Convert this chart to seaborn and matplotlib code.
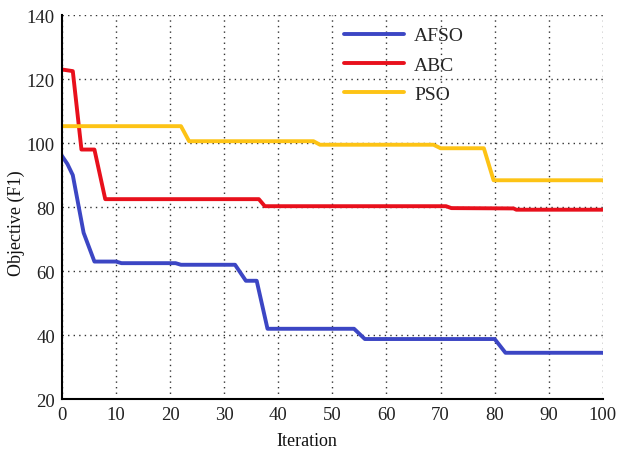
import pandas as pd
import seaborn as sns
import matplotlib.pyplot as plt

# breakpoints
afso_x = [0, 1, 2, 4, 6, 10, 11, 21, 22, 32, 34, 36, 38, 54, 56, 80, 82, 100]
afso_y = [96, 93.5, 90, 72, 63, 63, 62.5, 62.5, 62, 62, 57, 57, 42, 42, 38.8, 38.8, 34.5, 34.5]

abc_x = [0, 2, 3.6, 6, 8, 36.4, 37.5, 71, 72, 83.5, 84, 100]
abc_y = [123, 122.5, 98, 98, 82.5, 82.5, 80.3, 80.3, 79.7, 79.6, 79.2, 79.2]

pso_x = [0, 22, 23.5, 46.5, 47.7, 68.7, 70, 78, 79.8, 100]
pso_y = [105.3, 105.3, 100.6, 100.6, 99.5, 99.5, 98.4, 98.4, 88.4, 88.4]

algos = ['AFSO', 'ABC', 'PSO']
cores = ['#3C46C4', '#E8101C', '#FDC315']

df = pd.concat([
    pd.DataFrame({'Iteration': afso_x, 'Objective': afso_y, 'Algo': 'AFSO'}),
    pd.DataFrame({'Iteration': abc_x, 'Objective': abc_y, 'Algo': 'ABC'}),
    pd.DataFrame({'Iteration': pso_x, 'Objective': pso_y, 'Algo': 'PSO'}),
])

sns.set_style('white')
plt.rcParams['font.family'] = ['Liberation Serif', 'DejaVu Serif']

fig = plt.figure(figsize=(6.26, 4.6), dpi=100)
ax = fig.add_axes([0.099, 0.130, 0.864, 0.835])

sns.lineplot(data=df, x='Iteration', y='Objective', hue='Algo', hue_order=algos,
             palette=cores, sort=False, estimator=None, linewidth=2.8, ax=ax)

ax.set_xlim(0, 100)
ax.set_ylim(20, 140)
ax.set_xticks(range(0, 101, 10))
ax.set_yticks(range(20, 141, 20))
ax.grid(True, linestyle=(0, (1, 3)), color='#333333', linewidth=1.0)
ax.tick_params(direction='in', length=4, labelsize=13.5, color='black',
               labelcolor='#222222', pad=5)
for lado in ['top', 'right']:
    ax.spines[lado].set_visible(False)
for lado in ['left', 'bottom']:
    ax.spines[lado].set_color('black')
    ax.spines[lado].set_linewidth(1.5)

ax.set_xlabel('Iteration', fontsize=13, color='#111111')
ax.set_ylabel('Objective (F1)', fontsize=13, color='#111111')
ax.xaxis.set_label_coords(0.453, -0.085)
ax.yaxis.set_label_coords(-0.068, 0.46)

leg = ax.legend(loc='upper left', bbox_to_anchor=(0.507, 0.99), frameon=False,
                fontsize=14, handlelength=3.1, labelspacing=0.6,
                borderaxespad=0, handletextpad=0.5)
for linha in leg.get_lines():
    linha.set_linewidth(2.8)

fig.savefig('out.png', dpi=100)
